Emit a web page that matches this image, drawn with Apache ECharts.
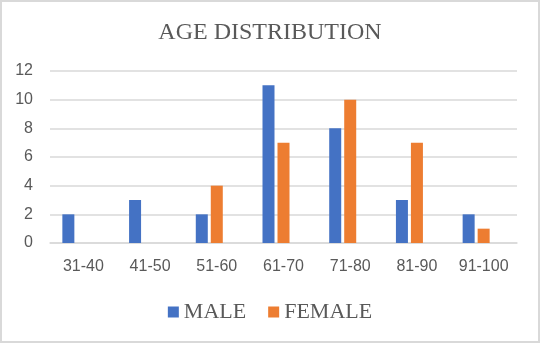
<!DOCTYPE html>
<html><head><meta charset="utf-8">
<script src="https://cdn.jsdelivr.net/npm/echarts@6/dist/echarts.min.js"></script>
<style>html,body{margin:0;padding:0;background:#fff}#c{width:540px;height:343px}</style>
</head><body><div id="c"></div>
<script>
const categories = ['31-40','41-50','51-60','61-70','71-80','81-90','91-100'];
const male = [2,3,2,11,8,3,2];
const female = [0,0,4,7,10,7,1];
const yTicks = {min:0, max:12, interval:2};

const chart = echarts.init(document.getElementById('c'), null, {renderer:'canvas'});
chart.setOption({
  animation:false,
  backgroundColor:'#fff',
  graphic:[{type:'rect', shape:{x:1,y:1,width:538,height:341}, style:{fill:'none', stroke:'#d9d9d9', lineWidth:2}, silent:true}],
  title:{text:'AGE DISTRIBUTION', left:'center', top:16,
    textStyle:{fontFamily:'Liberation Serif', fontSize:24, fontWeight:'normal', color:'#595959'}},
  legend:{data:['MALE','FEMALE'], top:296, left:'center', itemWidth:11, itemHeight:11, itemGap:22, icon:'rect',
    textStyle:{fontFamily:'Liberation Serif', fontSize:22, color:'#595959'}},
  grid:{left:50, right:23, top:71, bottom:100},
  xAxis:{type:'category', data:categories,
    axisLine:{lineStyle:{color:'#d9d9d9', width:1.5}}, axisTick:{show:false},
    axisLabel:{fontFamily:'Liberation Sans', fontSize:16, color:'#595959', margin:16}},
  yAxis:{type:'value', min:yTicks.min, max:yTicks.max, interval:yTicks.interval,
    splitLine:{lineStyle:{color:'#d9d9d9', width:1.5}},
    axisLine:{show:false}, axisTick:{show:false},
    axisLabel:{fontFamily:'Liberation Sans', fontSize:16, color:'#595959', margin:17}},
  series:[
    {name:'MALE', type:'bar', data:male, barWidth:12, barGap:'25%', itemStyle:{color:'#4472c4'}},
    {name:'FEMALE', type:'bar', data:female, barWidth:12, barGap:'25%', itemStyle:{color:'#ed7d31'}},
    {name:'_spacer', type:'bar', data:[], barWidth:12, barGap:'25%', itemStyle:{color:'transparent'}, silent:true}
  ]
});
</script></body></html>
